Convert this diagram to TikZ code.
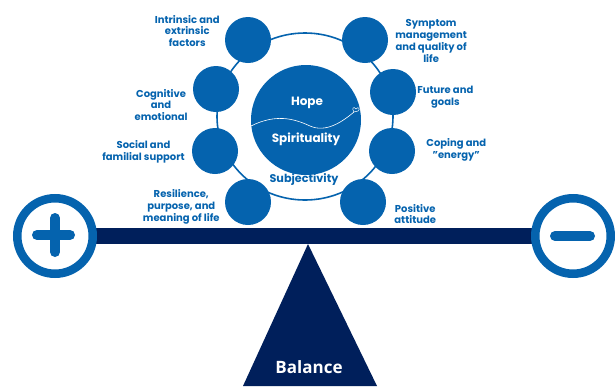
\documentclass[tikz,border=0pt]{standalone}
\usepackage{fontspec}
\setmainfont{Poppins}
\newfontfamily\balancefont{Open Sans}
\usepackage{tikz}
\usetikzlibrary{positioning}

\definecolor{factorblue}{HTML}{0563AE}
\definecolor{beamnavy}{HTML}{001F5B}

\begin{document}
\begin{tikzpicture}[%
  x=1pt, y=-1pt,
  factor/.style={circle, fill=factorblue, minimum size=46pt, inner sep=0pt},
  tag/.style={text=factorblue, font=\bfseries\fontsize{10}{11.7}\selectfont,
    align=center, inner sep=0pt},
  hubtext/.style={font=\bfseries\fontsize{12}{14}\selectfont, inner sep=0pt},
  ring/.style={draw=factorblue, line width=1.6pt},
  pan/.style={draw=factorblue, fill=white, line width=8.5pt},
  sign/.style={draw=factorblue, line width=10pt, line cap=round},
]

  \useasboundingbox (0,0) rectangle (615,386);

  % outer ring that holds the factors
  \draw[ring] (305,116.5) ellipse [x radius=88, y radius=83.5];

  % central circle
  \node[circle, fill=factorblue, minimum size=110pt, inner sep=0pt] (hub) at (306,120) {};
  \draw[white, line width=0.6pt] (251,126) .. controls (275,114) and (293,118) .. (310,126)
    .. controls (326,133) and (342,122) .. (354,112);
  \draw[white, line width=0.5pt] (354,112) .. controls (351,108) and (354,106) .. (356,109)
    .. controls (358,106) and (361,109) .. (358,111) -- (354,112);
  \node[hubtext, text=white] (hope) at (307,103) {Hope};
  \node[hubtext, text=white] (spirit) at (306,139) {Spirituality};
  \node[hubtext, text=factorblue, font=\bfseries\fontsize{11.2}{14}\selectfont]
    (subject) at (304,179) {Subjectivity};

  % factors around the ring
  \node[factor] (intrinsic) at (248,40) {};
  \node[factor] (symptom) at (365,40) {};
  \node[factor] (cognitive) at (216,89) {};
  \node[factor] (future) at (393,92) {};
  \node[factor] (social) at (215,151) {};
  \node[factor] (coping) at (392,151) {};
  \node[factor] (resilience) at (248,202) {};
  \node[factor] (positive) at (363,202) {};

  \node[tag, left=5pt of intrinsic, yshift=9pt] {Intrinsic and\\extrinsic\\factors};
  \node[tag, right=7pt of symptom, yshift=-1pt] {Symptom\\management\\and quality of\\life};
  \node[tag, left=5pt of cognitive, yshift=-16pt] {Cognitive\\and\\emotional};
  \node[tag, right=1pt of future, yshift=-5pt] {Future and\\goals};
  \node[tag, left=7pt of social, yshift=-1pt] {Social and\\familial support};
  \node[tag, right=11pt of coping, yshift=1pt] {Coping and\\\symbol{34}energy\symbol{34}};
  \node[tag, left=5pt of resilience, yshift=-5pt] {Resilience,\\purpose, and\\meaning of life};
  \node[tag, right=8pt of positive, yshift=-12pt] {Positive\\attitude};

  % beam, pans and pivot
  \coordinate (plusc) at (55,236);
  \coordinate (minusc) at (573,236);
  \coordinate (pivot) at (308,244);
  \draw[beamnavy, line width=16pt] (plusc) -- (minusc);
  \draw[pan] (plusc) circle [radius=37.75];
  \draw[pan] (minusc) circle [radius=37.75];
  \draw[sign] (37,235) -- (70,235);
  \draw[sign] (55,218) -- (55,252);
  \draw[sign] (555,236) -- (590,236);

  \fill[beamnavy] (pivot) -- (243,386) -- (377,386) -- cycle;
  \node[text=white, font=\balancefont\bfseries\fontsize{17}{20}\selectfont, inner sep=0pt]
    (balance) at (309,367) {Balance};

\end{tikzpicture}
\end{document}
